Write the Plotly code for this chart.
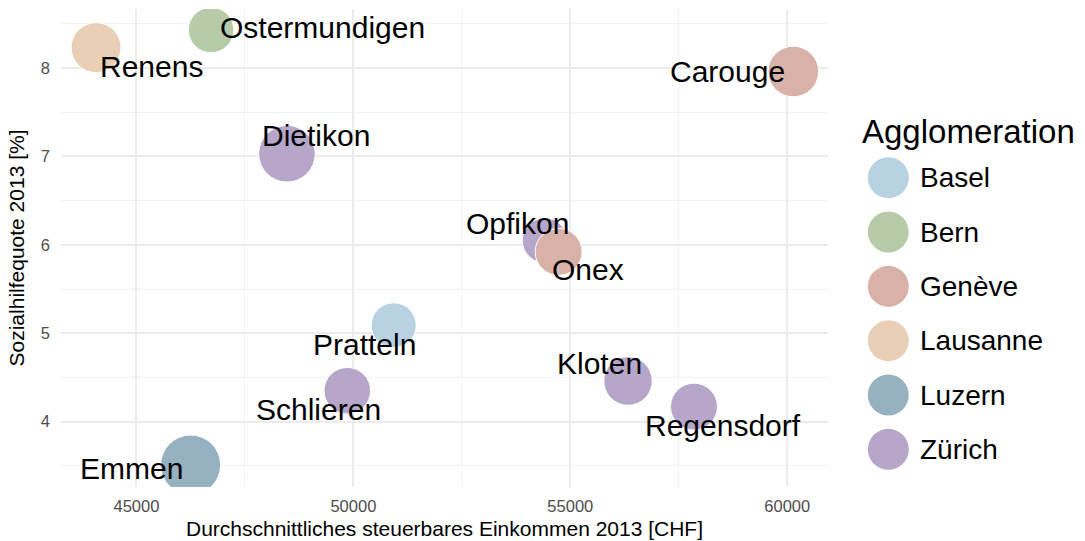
import plotly.graph_objects as go

# Gemeinden: steuerbares Einkommen, Sozialhilfequote, Einwohner, Agglomeration
gemeinde = ["Dietikon", "Kloten", "Opfikon", "Regensdorf", "Schlieren",
            "Emmen", "Pratteln", "Ostermundigen", "Carouge", "Onex", "Renens"]
agglomeration = ["Zürich", "Zürich", "Zürich", "Zürich", "Zürich",
                 "Luzern", "Basel", "Bern", "Genève", "Genève", "Lausanne"]
einkommen = [48470, 56330, 54410, 57850, 49860,
             46250, 50930, 46720, 60140, 54730, 44070]
sozialhilfequote = [7.03, 4.46, 6.05, 4.17, 4.35,
                    3.51, 5.09, 8.43, 7.96, 5.92, 8.23]
einwohner = [25300, 18600, 16000, 17400, 17100,
             28400, 16000, 16300, 20200, 17400, 19700]

agglo_namen = ["Basel", "Bern", "Genève", "Lausanne", "Luzern", "Zürich"]
agglo_farben = ["#b8d2e1", "#b7cba8", "#d8b1a8", "#e9cfb6", "#96b1bf", "#b6a7ca"]

x_ticks = [45000, 50000, 55000, 60000]
y_ticks = [4, 5, 6, 7, 8]

FONT = "Liberation Sans, Arial, sans-serif"
farbe = dict(zip(agglo_namen, agglo_farben))

# label offsets (px) relative to each bubble centre
label_shift = {
    "Dietikon": (29, 18), "Kloten": (-29, 17), "Opfikon": (-27, 17),
    "Regensdorf": (29, -19), "Schlieren": (-29, -19), "Emmen": (-59, -4),
    "Pratteln": (-29, -19), "Ostermundigen": (111, 2), "Carouge": (-66, 0),
    "Onex": (29, -18), "Renens": (55, -19),
}

fig = go.Figure()

fig.add_trace(go.Scatter(
    x=einkommen, y=sozialhilfequote, mode="markers",
    marker=dict(size=einwohner, sizemode="area", sizeref=15.8,
                color=[farbe[a] for a in agglomeration], opacity=1,
                line=dict(color="white", width=1)),
    text=gemeinde, hoverinfo="text", showlegend=False,
    xaxis="x", yaxis="y",
))

for g, xv, yv in zip(gemeinde, einkommen, sozialhilfequote):
    dx, dy = label_shift[g]
    fig.add_annotation(x=xv, y=yv, xref="x", yref="y", text=g, showarrow=False,
                       xanchor="center", yanchor="middle", xshift=dx, yshift=dy,
                       font=dict(family=FONT, size=30, color="black"))

# legend drawn as its own small panel
fig.add_trace(go.Scatter(
    x=[28.3] * len(agglo_namen), y=agglo_namen, mode="markers",
    marker=dict(size=41, color=agglo_farben), hoverinfo="y",
    showlegend=False, xaxis="x2", yaxis="y2", cliponaxis=False,
))
for name in agglo_namen:
    fig.add_annotation(x=58, y=name, xref="x2", yref="y2", text=name,
                       showarrow=False, xanchor="left", yanchor="middle",
                       font=dict(family=FONT, size=28, color="black"))
fig.add_annotation(x=0.780, y=0.7433, xref="paper", yref="paper",
                   text="Agglomeration", showarrow=False, xanchor="left",
                   yanchor="middle", font=dict(family=FONT, size=33, color="black"))

fig.update_layout(
    width=1085, height=541,
    margin=dict(l=61, r=0, t=9, b=54),
    paper_bgcolor="white", plot_bgcolor="white",
    font=dict(family=FONT),
    xaxis=dict(domain=[0, 767 / 1024], range=[43262, 60939],
               tickvals=x_ticks, ticktext=[str(v) for v in x_ticks],
               showgrid=True, gridcolor="#ebebeb", gridwidth=1.6,
               minor=dict(dtick=2500, tick0=0, showgrid=True,
                          gridcolor="#f3f3f3", gridwidth=0.9),
               zeroline=False, showline=False, ticks="",
               ticklabelstandoff=7,
               tickfont=dict(size=16.5, color="#4d4d4d"),
               title=dict(text="Durchschnittliches steuerbares Einkommen 2013 [CHF]",
                          font=dict(size=21, color="black"), standoff=7)),
    yaxis=dict(range=[3.261, 8.667], tickvals=y_ticks,
               showgrid=True, gridcolor="#ebebeb", gridwidth=1.6,
               minor=dict(dtick=0.5, tick0=0, showgrid=True,
                          gridcolor="#f3f3f3", gridwidth=0.9),
               zeroline=False, showline=False, ticks="",
               ticklabelstandoff=10,
               tickfont=dict(size=16.5, color="#4d4d4d"),
               title=dict(text="Sozialhilfequote 2013 [%]",
                          font=dict(size=21, color="black"), standoff=10)),
    xaxis2=dict(domain=[(860 - 61) / 1024, 1], range=[0, 225], visible=False,
                fixedrange=True),
    yaxis2=dict(domain=[0.02197, 0.70397], range=[5.5, -0.5], type="category",
                categoryorder="array", categoryarray=agglo_namen,
                visible=False, fixedrange=True, anchor="x2"),
)

fig.write_html("out.html")
